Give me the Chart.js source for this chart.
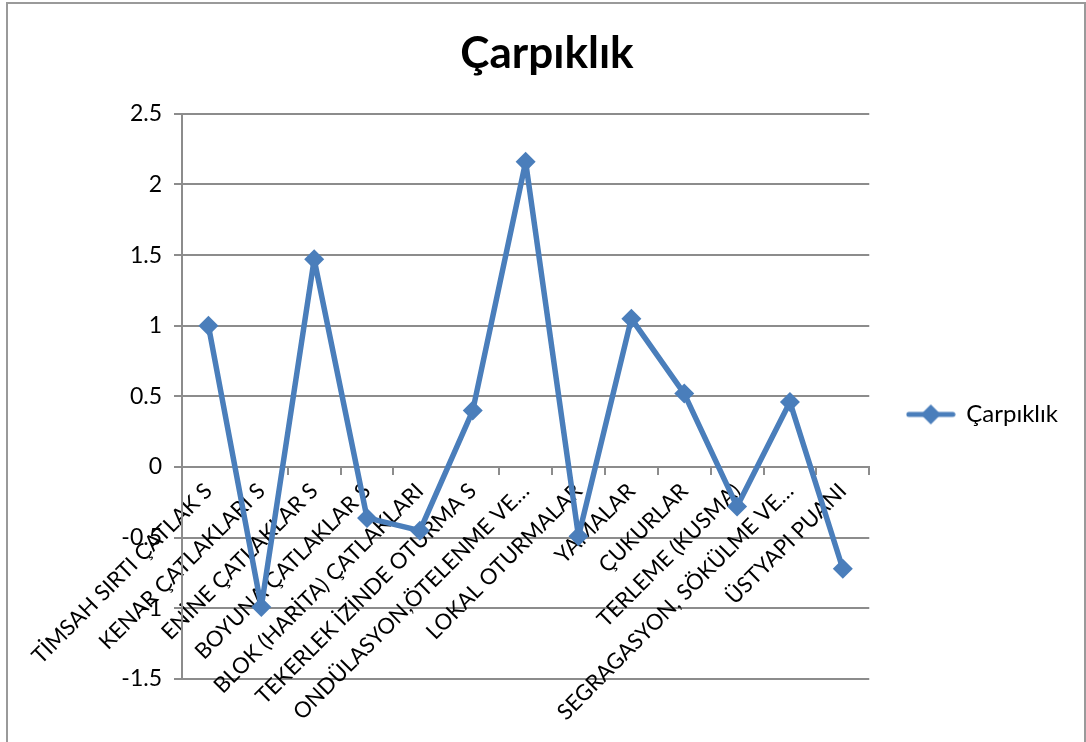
<!DOCTYPE html>
<html>
<head>
<meta charset="utf-8">
<title>Çarpıklık</title>
<script src="https://cdn.jsdelivr.net/npm/chart.js@4.4.1/dist/chart.umd.min.js"></script>
<style>
  html, body { margin: 0; padding: 0; background: #fff; overflow: hidden; }
  #wrap { position: relative; width: 1086px; height: 742px; }
  #frame {
    position: absolute; left: 6px; top: 2px; width: 1076px; height: 800px;
    border: 2px solid #9a9a9a; pointer-events: none;
  }
</style>
</head>
<body>
<div id="wrap">
  <canvas id="skewChart" width="1086" height="742"></canvas>
  <div id="frame"></div>
</div>
<script>
// -- Data --
const categories = [
    'TİMSAH SIRTI ÇATLAK S',
    'KENAR ÇATLAKLARI S',
    'ENİNE ÇATLAKLAR S',
    'BOYUNA ÇATLAKLAR S',
    'BLOK (HARİTA) ÇATLAKLARI',
    'TEKERLEK İZİNDE OTURMA S',
    'ONDÜLASYON,ÖTELENME VE…',
    'LOKAL OTURMALAR',
    'YAMALAR',
    'ÇUKURLAR',
    'TERLEME (KUSMA)',
    'SEGRAGASYON, SÖKÜLME VE…',
    'ÜSTYAPI PUANI'
];
const skewValues = [1.0, -0.99, 1.47, -0.36, -0.45, 0.40, 2.16, -0.49, 1.05, 0.52, -0.28, 0.46, -0.72];
const seriesName = 'Çarpıklık';
const yMin = -1.5;
const yMax = 2.5;
const yStep = 0.5;

// -- Styles --
const lineBlue = '#4A7EBB';
const gridGray = '#8c8c8c';
const fontFamily = 'Lato, "Open Sans", sans-serif';

// legend swatch: a short line with a diamond in the middle
function makeLegendSwatch() {
    const c = document.createElement('canvas');
    c.width = 50;
    c.height = 22;
    const g = c.getContext('2d');
    g.strokeStyle = lineBlue;
    g.lineWidth = 5;
    g.lineCap = 'round';
    g.beginPath();
    g.moveTo(3, 11);
    g.lineTo(47, 11);
    g.stroke();
    g.fillStyle = lineBlue;
    g.beginPath();
    g.moveTo(25, 1);
    g.lineTo(35, 11);
    g.lineTo(25, 21);
    g.lineTo(15, 11);
    g.closePath();
    g.fill();
    return c;
}
const legendSwatch = makeLegendSwatch();

const ctx = document.getElementById('skewChart').getContext('2d');
const skewChart = new Chart(ctx, {
    type: 'line',
    data: {
        labels: categories,
        datasets: [{
            label: seriesName,
            data: skewValues,
            borderColor: lineBlue,
            backgroundColor: lineBlue,
            borderWidth: 5.5,
            borderJoinStyle: 'round',
            borderCapStyle: 'round',
            tension: 0,
            pointStyle: 'rectRot',
            pointRadius: 10,
            pointBorderWidth: 0,
            pointBackgroundColor: lineBlue,
            pointBorderColor: lineBlue
        }]
    },
    options: {
        responsive: false,
        animation: false,
        devicePixelRatio: 1,
        layout: {
            padding: { left: 26, right: 18, top: 0, bottom: 63 }
        },
        plugins: {
            title: {
                display: true,
                text: seriesName,
                color: '#000',
                font: { family: fontFamily, size: 44, weight: 'bold' },
                padding: { top: 27, bottom: 34 }
            },
            legend: {
                display: true,
                position: 'right',
                align: 'center',
                fullSize: false,
                title: {
                    display: true,
                    text: ' ',
                    font: { size: 10 },
                    padding: { top: 12, bottom: 12 }
                },
                labels: {
                    color: '#000',
                    font: { family: fontFamily, size: 24 },
                    padding: 38,
                    usePointStyle: true,
                    pointStyleWidth: 47,
                    generateLabels: function (chart) {
                        return chart.data.datasets.map((ds, i) => ({
                            text: ds.label,
                            fontColor: '#000',
                            pointStyle: legendSwatch,
                            datasetIndex: i,
                            lineWidth: 0,
                            strokeStyle: 'transparent',
                            fillStyle: 'transparent'
                        }));
                    }
                }
            },
            tooltip: { enabled: false }
        },
        scales: {
            x: {
                type: 'category',
                offset: true,
                position: { y: 0 },
                grid: {
                    display: true,
                    offset: true,
                    drawOnChartArea: false,
                    drawTicks: true,
                    tickLength: 7,
                    color: gridGray,
                    lineWidth: 2
                },
                border: { display: true, color: gridGray, width: 2 },
                ticks: {
                    autoSkip: false,
                    maxRotation: 45,
                    minRotation: 45,
                    padding: 4,
                    color: '#000',
                    font: { family: fontFamily, size: 22 }
                }
            },
            y: {
                min: yMin,
                max: yMax,
                afterFit: function (scale) {
                    scale.width = 156;
                },
                grid: {
                    color: gridGray,
                    lineWidth: 2,
                    tickLength: 8
                },
                border: { display: true, color: gridGray, width: 2 },
                ticks: {
                    stepSize: yStep,
                    padding: 12,
                    color: '#000',
                    font: { family: fontFamily, size: 23 },
                    callback: function (value) {
                        return String(Number(value.toFixed(1)));
                    }
                }
            }
        }
    }
});
</script>
</body>
</html>
